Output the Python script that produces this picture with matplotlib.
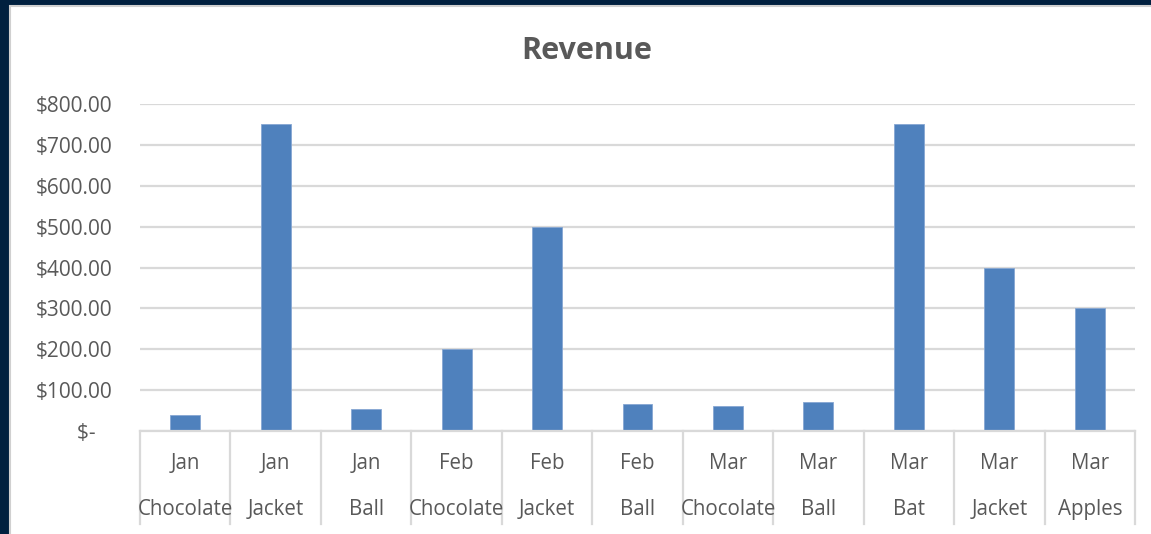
import matplotlib
matplotlib.use('Agg')
import matplotlib.pyplot as plt
import matplotlib.patches as patches
import matplotlib.transforms as mtransforms

# data
months = ["Jan", "Jan", "Jan", "Feb", "Feb", "Feb", "Mar", "Mar", "Mar", "Mar", "Mar"]
products = ["Chocolate", "Jacket", "Ball", "Chocolate", "Jacket", "Ball",
            "Chocolate", "Ball", "Bat", "Jacket", "Apples"]
revenue = [40, 750, 53, 200, 500, 65, 60, 70, 750, 400, 300]
y_ticks = [0, 100, 200, 300, 400, 500, 600, 700, 800]

plt.rcParams['font.family'] = ['Open Sans', 'DejaVu Sans']
text_grey = '#595959'
grid_grey = '#D9D9D9'
bar_blue = '#4F81BD'

W, H = 1151, 534
fig = plt.figure(figsize=(W / 100, H / 100), dpi=100, facecolor='#00203F')

# white chart area with thin grey edge
fig.patches.append(patches.Rectangle((10 / W, -0.01), 1.01 - 10 / W, 1.01 - 6 / H,
                                     transform=fig.transFigure, facecolor='white',
                                     edgecolor='#D0D0D0', linewidth=1.5, zorder=-5))

ax = fig.add_axes([140 / W, (H - 431) / H, (1135 - 140) / W, (431 - 104) / H])
ax.set_facecolor('none')
ax.set_zorder(2)

x = list(range(len(revenue)))
ax.bar(x, revenue, width=0.33, color=bar_blue, edgecolor='#86A7D3', linewidth=0.6, zorder=3)

ax.set_xlim(-0.5, len(revenue) - 0.5)
ax.set_ylim(0, 800)
ax.set_yticks(y_ticks)
ax.set_yticklabels(["$-   "] + [f"${v:,.2f}" for v in y_ticks[1:]],
                   color=text_grey, fontsize=15)
ax.tick_params(axis='y', length=0, pad=20)
ax.set_xticks([])
ax.grid(axis='y', color=grid_grey, linewidth=1.6, zorder=0)
for s in ['top', 'right', 'left']:
    ax.spines[s].set_visible(False)
ax.spines['bottom'].set_color(grid_grey)
ax.spines['bottom'].set_linewidth(1.6)
ax.spines['bottom'].set_zorder(4)

# two-level category axis
trans = mtransforms.blended_transform_factory(ax.transData, ax.transAxes)
for b in range(len(revenue) + 1):
    ax.plot([b - 0.5, b - 0.5], [0, -0.285], transform=trans, color=grid_grey,
            linewidth=1.6, clip_on=False)
for i in x:
    ax.text(i, -0.1, months[i], transform=trans, ha='center', va='center',
            fontsize=14.8, color=text_grey)
    ax.text(i, -0.24, products[i], transform=trans, ha='center', va='center',
            fontsize=14.8, color=text_grey)

fig.text(587 / W, 1 - 51 / H, "Revenue", ha='center', va='center',
         fontsize=22, fontweight='bold', color=text_grey)

fig.savefig('out.png', dpi=100, facecolor=fig.get_facecolor())
plt.close(fig)
